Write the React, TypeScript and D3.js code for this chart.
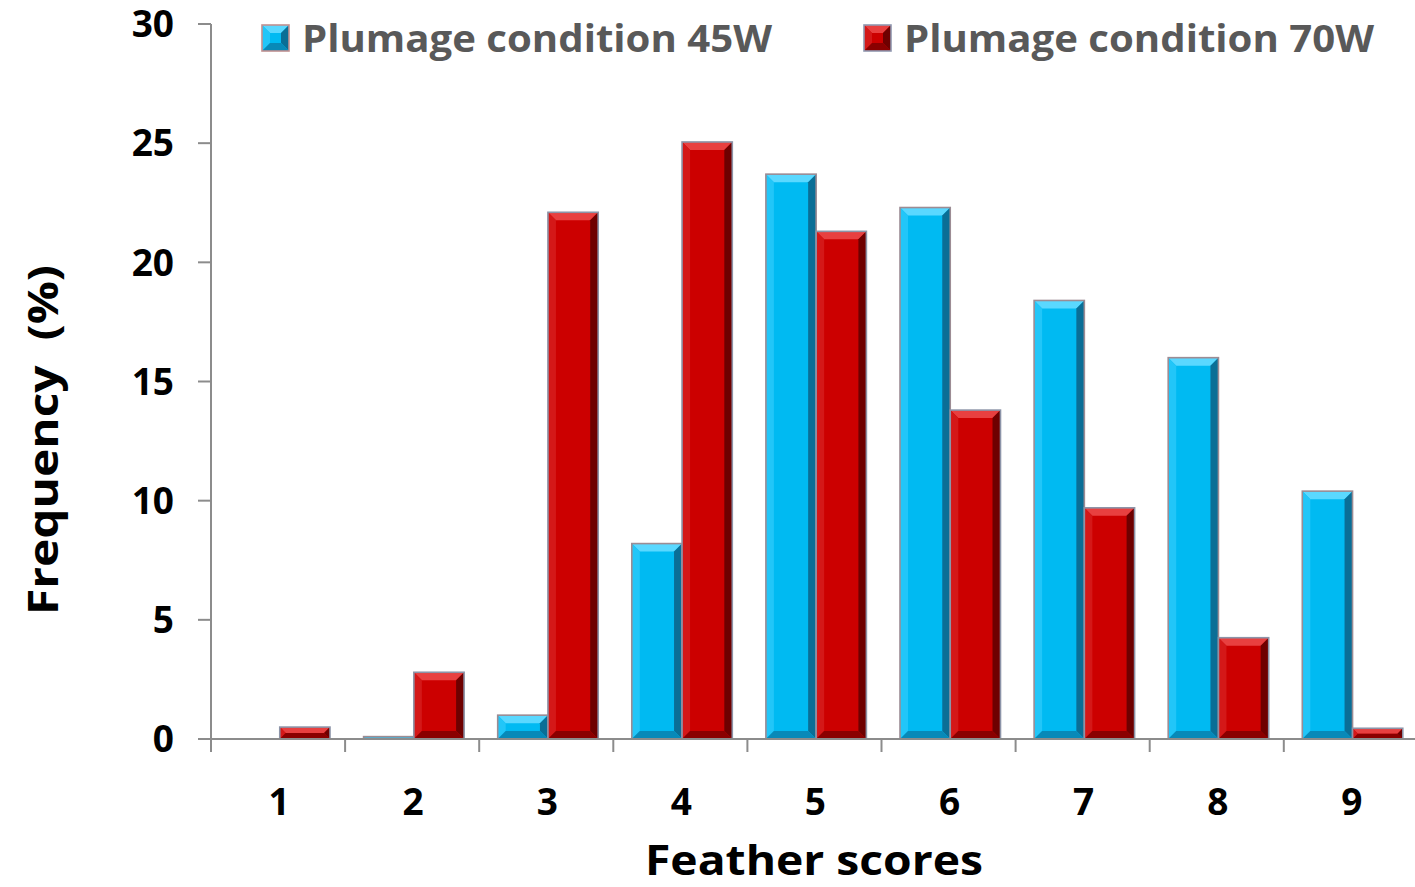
import React from "react";
import * as d3 from "d3";

const categories = ["1", "2", "3", "4", "5", "6", "7", "8", "9"];
const series45W = [0, 0.1, 1.0, 8.2, 23.7, 22.3, 18.4, 16.0, 10.4];
const series70W = [0.5, 2.8, 22.1, 25.05, 21.3, 13.8, 9.7, 4.25, 0.45];
const yTicks = [0, 5, 10, 15, 20, 25, 30];
const seriesNames = ["Plumage condition 45W", "Plumage condition 70W"];

const W = 1415;
const H = 887;
const FONT = "'Open Sans', 'Liberation Sans', sans-serif";

const palettes = [
  { main: "#00BAF2", top: "#5AD8FF", left: "#22C6F8", right: "#0A6E96", bottom: "#0889B8", stroke: "#9C8C94" },
  { main: "#CC0000", top: "#E84040", left: "#D41818", right: "#6E0000", bottom: "#8A0000", stroke: "#8C94A8" },
];

function BevelBar({ x, y, w, h, p }: { x: number; y: number; w: number; h: number; p: any }) {
  if (h <= 0) return null;
  const b = Math.min(8, w / 2, h / 2);
  const x1 = x + w;
  const y1 = y + h;
  return (
    <g>
      <rect x={x} y={y} width={w} height={h} fill={p.main} />
      <polygon points={`${x},${y} ${x1},${y} ${x1 - b},${y + b} ${x + b},${y + b}`} fill={p.top} />
      <polygon points={`${x},${y} ${x + b},${y + b} ${x + b},${y1 - b} ${x},${y1}`} fill={p.left} />
      <polygon points={`${x1},${y} ${x1},${y1} ${x1 - b},${y1 - b} ${x1 - b},${y + b}`} fill={p.right} />
      <polygon points={`${x},${y1} ${x + b},${y1 - b} ${x1 - b},${y1 - b} ${x1},${y1}`} fill={p.bottom} />
      <rect x={x} y={y} width={w} height={h} fill="none" stroke={p.stroke} strokeWidth={1.6} />
    </g>
  );
}

export default function App() {
  const step = 134.1;
  const x0 = d3.scaleBand<string>().domain(categories).range([211, 211 + step * 9]).padding(0);
  const x1 = d3.scaleBand<string>().domain(["a", "b"]).range([18.5, 119]).padding(0);
  const y = d3.scaleLinear().domain([0, 30]).range([739, 24]);
  const seriesData = [series45W, series70W];
  const keys = ["a", "b"];
  const boundaries = d3.range(0, 10).map((k) => 211 + k * x0.bandwidth());

  return (
    <svg width={W} height={H} style={{ position: "absolute", left: 0, top: 0, background: "#fff" }}>
      <rect width={W} height={H} fill="#fff" />
      {/* bars */}
      {categories.map((c, i) => (
        <g key={c}>
          {seriesData.map((s, j) => {
            const bx = (x0(c) as number) + (x1(keys[j]) as number);
            const by = y(s[i]);
            return <BevelBar key={j} x={bx} y={by} w={x1.bandwidth()} h={y(0) - by} p={palettes[j]} />;
          })}
        </g>
      ))}
      {/* y axis */}
      <line x1={211} x2={211} y1={y(30)} y2={y(0)} stroke="#8C8C8C" strokeWidth={2} />
      {yTicks.map((t) => (
        <g key={t}>
          <line x1={198} x2={211} y1={y(t)} y2={y(t)} stroke="#8C8C8C" strokeWidth={2} />
          <text x={174} y={y(t)} dy="0.36em" textAnchor="end" fontFamily={FONT} fontWeight={700} fontSize={37} fill="#000">
            {t}
          </text>
        </g>
      ))}
      {/* x axis */}
      <line x1={198} x2={W} y1={y(0)} y2={y(0)} stroke="#8C8C8C" strokeWidth={2} />
      {boundaries.map((b, k) => (
        <line key={k} x1={b} x2={b} y1={y(0)} y2={752} stroke="#8C8C8C" strokeWidth={2} />
      ))}
      {categories.map((c) => (
        <text key={c} x={(x0(c) as number) + x0.bandwidth() / 2 + 1} y={815} textAnchor="middle" fontFamily={FONT} fontWeight={700} fontSize={37} fill="#000">
          {c}
        </text>
      ))}
      {/* axis titles */}
      <text x={814} y={875} textAnchor="middle" fontFamily={FONT} fontWeight={700} fontSize={42} fill="#000" textLength={338} lengthAdjust="spacingAndGlyphs">
        Feather scores
      </text>
      <text transform="translate(58,440) rotate(-90)" textAnchor="middle" fontFamily={FONT} fontWeight={700} fontSize={42} fill="#000" textLength={350} lengthAdjust="spacingAndGlyphs" xmlSpace="preserve">
        Frequency  (%)
      </text>
      {/* legend */}
      {seriesNames.map((n, j) => {
        const lx = j === 0 ? 262 : 864;
        const p = palettes[j];
        return (
          <g key={n}>
            <BevelBar x={lx} y={25} w={27} h={26} p={{ ...p, stroke: j === 0 ? "#C09090" : "#9098B0" }} />
            <text x={lx + 40} y={52} fontFamily={FONT} fontWeight={700} fontSize={37} fill="#595959" textLength={470} lengthAdjust="spacingAndGlyphs">
              {n}
            </text>
          </g>
        );
      })}
    </svg>
  );
}
